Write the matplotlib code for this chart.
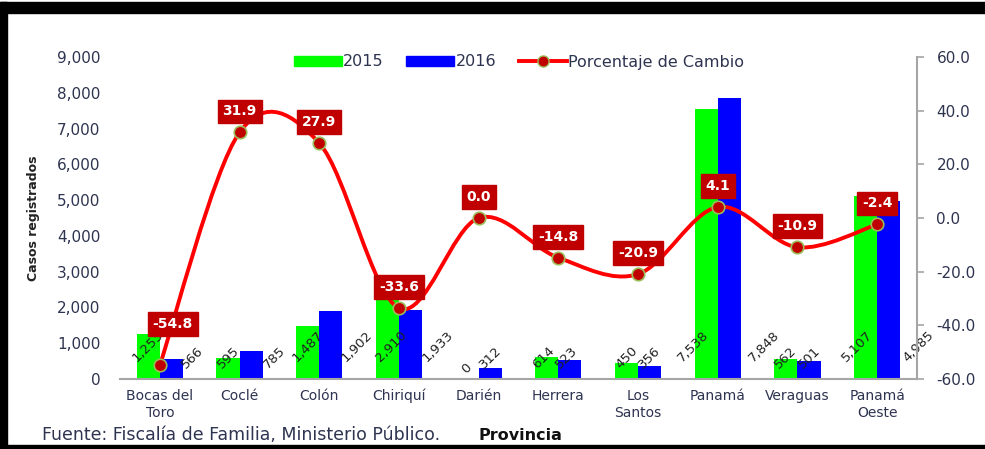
import numpy as np
import matplotlib
matplotlib.use("Agg")
import matplotlib.pyplot as plt
from matplotlib.path import Path
from matplotlib.patches import PathPatch, Patch, Rectangle
from matplotlib.lines import Line2D
from matplotlib.ticker import FuncFormatter

plt.rcParams['font.family'] = ['DejaVu Sans']

# datos
provincias = ['Bocas del\nToro', 'Coclé', 'Colón', 'Chiriquí', 'Darién', 'Herrera',
              'Los\nSantos', 'Panamá', 'Veraguas', 'Panamá\nOeste']
casos_2015 = [1253, 595, 1487, 2910, 0, 614, 450, 7538, 562, 5107]
casos_2016 = [566, 785, 1902, 1933, 312, 523, 356, 7848, 501, 4985]
pct_cambio = [-54.8, 31.9, 27.9, -33.6, 0.0, -14.8, -20.9, 4.1, -10.9, -2.4]

# desplazamientos de etiquetas (pixeles)
dx15 = [0, 0, 0, 4, 0, -3, 0, -13, 0, -8]
dx16 = [21, 23, 26, 27, 0, -3, 0, 35, 0, 30]
caja_off = [(13, -41)] + [(0, -21)] * 9

txt_col = '#2E3450'
fig = plt.figure(figsize=(9.85, 4.49), dpi=100)
ax = fig.add_axes([120/985, 70/449, 797/985, 322/449])
ax2 = ax.twinx()

x = np.arange(len(provincias))
w = 0.29
ax.bar(x - w/2, casos_2015, w, color='#00FF00', zorder=2)
ax.bar(x + w/2, casos_2016, w, color='#0000FF', zorder=2)
ax.set_xlim(-0.5, len(provincias) - 0.5)
ax.set_ylim(0, 9000)
ax.set_yticks(range(0, 9001, 1000))
ax.yaxis.set_major_formatter(FuncFormatter(lambda v, p: '{:,.0f}'.format(v)))
ax.set_xticks(x)
ax.set_xticklabels(provincias, fontsize=10, color=txt_col, linespacing=1.3)
ax.tick_params(axis='x', length=0, pad=7)
ax.tick_params(axis='y', length=0, pad=14, labelsize=11, labelcolor=txt_col)
for s in ['top', 'left', 'right']:
    ax.spines[s].set_visible(False)
ax.spines['bottom'].set_color('#A6A6A6')
ax.spines['bottom'].set_linewidth(1.5)
ax.set_ylabel('Casos registrados', family=['Liberation Sans Narrow', 'DejaVu Sans'],
              fontsize=9, fontweight='bold', color='#222222')
ax.yaxis.set_label_coords(-0.1, 0.5)

# etiquetas de barras rotadas
for i in range(len(x)):
    for val, xc, dx in [(casos_2015[i], x[i] - w/2, dx15[i]), (casos_2016[i], x[i] + w/2, dx16[i])]:
        s = '{:,}'.format(val)
        dy = 5 + 5.5 * len(s)
        ax.annotate(s, xy=(xc, 0), xytext=(dx * 0.72, dy * 0.72), textcoords='offset points',
                    rotation=45, ha='center', va='center', fontsize=9.5, color='#222222', zorder=3)

# eje derecho
ax2.set_ylim(-60, 60)
ax2.set_yticks(range(-60, 61, 20))
ax2.yaxis.set_major_formatter(FuncFormatter(lambda v, p: '{:.1f}'.format(v)))
ax2.tick_params(axis='y', length=5, width=1.2, color='#A6A6A6', pad=9, labelsize=11, labelcolor=txt_col)
for s in ['top', 'left', 'bottom']:
    ax2.spines[s].set_visible(False)
ax2.spines['right'].set_color('#A6A6A6')
ax2.spines['right'].set_linewidth(1.5)

# linea suavizada (Bezier en espacio de pantalla)
pts = ax2.transData.transform(np.column_stack([x, pct_cambio]))
verts = [pts[0]]
codes = [Path.MOVETO]
n = len(pts)
for i in range(n - 1):
    p0 = pts[max(i - 1, 0)]
    p1 = pts[i]
    p2 = pts[i + 1]
    p3 = pts[min(i + 2, n - 1)]
    c1 = p1 + (p2 - p0) / 6
    c2 = p2 - (p3 - p1) / 6
    verts += [c1, c2, p2]
    codes += [Path.CURVE4] * 3
verts = ax2.transData.inverted().transform(np.array(verts))
ax2.add_patch(PathPatch(Path(verts, codes), fill=False, edgecolor='#FF0000', lw=2.8, zorder=3))
ax2.plot(x, pct_cambio, 'o', ms=9, mfc='#C00000', mec='#9BBB59', mew=1.2, zorder=4)

for i, v in enumerate(pct_cambio):
    ox, oy = caja_off[i]
    ax2.annotate('{:.1f}'.format(v), xy=(x[i], v), xytext=(ox * 0.72, -oy * 0.72),
                 textcoords='offset points', ha='center', va='center', fontsize=10,
                 fontweight='bold', color='white', zorder=5,
                 bbox=dict(boxstyle='square,pad=0.35', fc='#C00000', ec='#C00000'))

# leyenda
handles = [Patch(color='#00FF00', label='2015'), Patch(color='#0000FF', label='2016'),
           Line2D([0], [0], color='#FF0000', lw=2.8, marker='o', ms=8, mfc='#C00000',
                  mec='#9BBB59', label='Porcentaje de Cambio')]
leg = fig.legend(handles=handles, loc='center', bbox_to_anchor=(519/985, 1 - 62/449), ncol=3,
                 frameon=False, fontsize=11.5, handlelength=3.0, handleheight=0.6,
                 columnspacing=1.4, handletextpad=0.1)
for t in leg.get_texts():
    t.set_color(txt_col)

# textos inferiores
fig.text(42/985, 1 - 440/449, 'Fuente: Fiscalía de Familia, Ministerio Público.', fontsize=12.5,
         color=txt_col, va='baseline')
fig.text(478/985, 1 - 440/449, 'Provincia', fontsize=11.5, fontweight='bold', color='#111111',
         va='baseline')

# marco negro
fig.patches.append(Rectangle((0, 1 - 13/449), 1, 11/449, transform=fig.transFigure,
                             color='black', zorder=10))
fig.patches.append(Rectangle((0, 0), 7/985, 1 - 2/449, transform=fig.transFigure,
                             color='black', zorder=10))
fig.patches.append(Rectangle((0, 0), 1, 4/449, transform=fig.transFigure,
                             color='black', zorder=10))

fig.savefig('out.png', dpi=100)
